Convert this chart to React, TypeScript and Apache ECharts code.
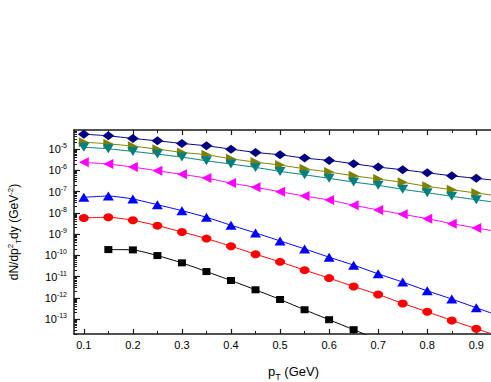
import React, { useEffect, useRef } from 'react';
import * as echarts from 'echarts';

// transverse momentum values (GeV)
const pT = [0.1, 0.15, 0.2, 0.25, 0.3, 0.35, 0.4, 0.45, 0.5, 0.55, 0.6, 0.65, 0.7, 0.75, 0.8, 0.85, 0.9];
const pTBlack = [0.15, 0.2, 0.25, 0.3, 0.35, 0.4, 0.45, 0.5, 0.55, 0.6, 0.65];

// spectra
const navyDiamond = [5.06e-5, 4.21e-5, 3.18e-5, 2.45e-5, 1.85e-5, 1.43e-5, 1.0e-5, 7.0e-6, 5.4e-6, 3.78e-6, 2.94e-6, 2.04e-6, 1.43e-6, 1.07e-6, 7.7e-7, 5.57e-7, 4.21e-7];
const oliveRight = [2.13e-5, 1.77e-5, 1.38e-5, 1.0e-5, 7.0e-6, 5.4e-6, 3.51e-6, 2.45e-6, 1.77e-6, 1.19e-6, 8.32e-7, 5.57e-7, 3.91e-7, 2.74e-7, 1.77e-7, 1.23e-7, 8.59e-8];
const tealDown = [1.24e-5, 1.03e-5, 7.8e-6, 5.82e-6, 4.21e-6, 2.82e-6, 1.98e-6, 1.38e-6, 8.97e-7, 6.21e-7, 4.21e-7, 2.82e-7, 1.98e-7, 1.28e-7, 8.87e-8, 6.01e-8, 4.17e-8];
const magentaLeft = [2.38e-6, 1.98e-6, 1.43e-6, 9.57e-7, 6.49e-7, 4.35e-7, 2.54e-7, 1.59e-7, 9.89e-8, 6.21e-8, 4.04e-8, 2.28e-8, 1.37e-8, 8.59e-9, 5.35e-9, 3.11e-9, 1.95e-9];
const blueUp = [5.4e-8, 6.21e-8, 4.5e-8, 2.43e-8, 1.27e-8, 6.21e-9, 2.62e-9, 1.14e-9, 4.8e-10, 2.02e-10, 8.22e-11, 3.47e-11, 1.35e-11, 5.52e-12, 2.15e-12, 8.79e-13, 3.43e-13];
const redCircle = [5.77e-9, 6.21e-9, 4.5e-9, 2.51e-9, 1.27e-9, 6.15e-10, 2.7e-10, 1.14e-10, 4.95e-11, 2.02e-11, 8.51e-12, 3.43e-12, 1.45e-12, 5.46e-13, 2.22e-13, 8.69e-14, 3.54e-14];
const blackSquare = [1.87e-10, 1.81e-10, 9.79e-11, 4.45e-11, 1.73e-11, 6.56e-12, 2.4e-12, 8.41e-13, 2.76e-13, 9.38e-14, 3.18e-14];

// where each fitted curve leaves the frame: [pT, value]
const fitTailNavy = [0.93, 3.56e-7];
const fitTailOlive = [0.93, 6.93e-8];
const fitTailTeal = [0.93, 3.35e-8];
const fitTailMagenta = [0.93, 1.48e-9];
const fitTailBlue = [0.93, 1.95e-13];
const fitTailRed = [0.93, 2.07e-14];
const fitTailBlack = [0.7, 1.07e-14];

// axis ticks
const xMajor = [0.1, 0.2, 0.3, 0.4, 0.5, 0.6, 0.7, 0.8, 0.9];
const xMinor = [0.15, 0.25, 0.35, 0.45, 0.55, 0.65, 0.75, 0.85];
const decades = [-13, -12, -11, -10, -9, -8, -7, -6, -5];

const X_MIN = 0.08;
const X_MAX = 0.93;
const LOG_MIN = -13.7;
const LOG_MAX = -4.1;

const FONT = 'Liberation Sans, Arial, sans-serif';
const AXIS_COLOR = '#1a1a1a';

function build(xs: number[], ys: number[], tail: number[]) {
  const d: any[] = xs.map((x, i) => [x, ys[i]]);
  d.push({ value: tail, symbol: 'none' });
  return d;
}

function mkSeries(name: string, data: any[], color: string, symbol: string, size: any, rotate = 0) {
  return {
    name,
    type: 'line',
    data,
    xAxisIndex: 0,
    yAxisIndex: 0,
    symbol,
    symbolSize: size,
    symbolRotate: rotate,
    smooth: 0.2,
    clip: true,
    itemStyle: { color },
    lineStyle: { color, width: 1 },
    emphasis: { disabled: true },
  };
}

export default function App() {
  const ref = useRef<HTMLDivElement>(null);
  useEffect(() => {
    if (!ref.current) return;
    const chart = echarts.init(ref.current, undefined, { renderer: 'svg' });

    const minorLogTicks: number[] = [];
    for (let e = -14; e <= -4; e++) {
      for (let k = 2; k <= 9; k++) {
        const v = e + Math.log10(k);
        if (v > LOG_MIN && v < LOG_MAX) minorLogTicks.push(v);
      }
    }

    const baseX = {
      type: 'value',
      min: X_MIN,
      max: X_MAX,
      splitLine: { show: false },
    };

    const option: any = {
      animation: false,
      backgroundColor: '#ffffff',
      grid: { left: 74, right: 0, top: 130, bottom: 48, containLabel: false, outerBoundsMode: 'none' },
      xAxis: [
        {
          ...baseX,
          position: 'bottom',
          axisLine: { show: true, lineStyle: { color: AXIS_COLOR, width: 1.5 } },
          axisTick: { show: true, inside: true, length: 5, customValues: xMajor, lineStyle: { color: AXIS_COLOR, width: 1.2 } },
          axisLabel: {
            customValues: xMajor,
            formatter: (v: number) => v.toFixed(1),
            fontFamily: FONT,
            fontSize: 11,
            color: '#000',
            margin: 5,
          },
          name: '{a|p}{sub|T}{a| (GeV)}',
          nameLocation: 'middle',
          nameGap: 29,
          nameTextStyle: {
            padding: [0, 0, 0, 22],
            rich: {
              a: { fontFamily: FONT, fontSize: 13, color: '#000', lineHeight: 16 },
              sub: { fontFamily: FONT, fontSize: 9, color: '#000', lineHeight: 16, verticalAlign: 'bottom', padding: [0, 0, -2, 0] },
            },
          },
        },
        {
          ...baseX,
          position: 'bottom',
          axisLine: { show: false },
          axisTick: { show: true, inside: true, length: 3, customValues: xMinor, lineStyle: { color: AXIS_COLOR, width: 1 } },
          axisLabel: { show: false },
        },
        {
          ...baseX,
          position: 'top',
          axisLine: { show: true, lineStyle: { color: AXIS_COLOR, width: 1.5 } },
          axisTick: { show: true, inside: true, length: 5, customValues: xMajor, lineStyle: { color: AXIS_COLOR, width: 1.2 } },
          axisLabel: { show: false },
        },
        {
          ...baseX,
          position: 'top',
          axisLine: { show: false },
          axisTick: { show: true, inside: true, length: 3, customValues: xMinor, lineStyle: { color: AXIS_COLOR, width: 1 } },
          axisLabel: { show: false },
        },
      ],
      yAxis: [
        {
          type: 'log',
          logBase: 10,
          min: Math.pow(10, LOG_MIN),
          max: Math.pow(10, LOG_MAX),
          splitNumber: 10,
          position: 'left',
          splitLine: { show: false },
          axisLine: { show: true, lineStyle: { color: AXIS_COLOR, width: 1.5 } },
          axisTick: { show: true, inside: true, length: 6, lineStyle: { color: AXIS_COLOR, width: 1.2 } },
          axisLabel: {
            showMinLabel: false,
            showMaxLabel: false,
            margin: 7,
            formatter: (v: number) => {
              const e = Math.log10(v);
              const r = Math.round(e);
              if (Math.abs(e - r) > 1e-6 || decades.indexOf(r) < 0) return '';
              return '{b|10}{s|' + r + '}';
            },
            rich: {
              b: { fontFamily: FONT, fontSize: 11, color: '#000', lineHeight: 14 },
              s: { fontFamily: FONT, fontSize: 7, color: '#000', lineHeight: 9, verticalAlign: 'top' },
            },
          },
          name: '{a|dN/dp}{sup|2}{sub|T}{a|dy (GeV}{sup|-2}{a|)}',
          nameLocation: 'middle',
          nameRotate: 90,
          nameGap: 52,
          nameTextStyle: {
            rich: {
              a: { fontFamily: FONT, fontSize: 12, color: '#000', lineHeight: 16 },
              sup: { fontFamily: FONT, fontSize: 8, color: '#000', lineHeight: 10, verticalAlign: 'top' },
              sub: { fontFamily: FONT, fontSize: 8, color: '#000', lineHeight: 10, verticalAlign: 'bottom' },
            },
          },
        },
        {
          type: 'value',
          min: LOG_MIN,
          max: LOG_MAX,
          position: 'left',
          offset: 0,
          splitLine: { show: false },
          axisLine: { show: false },
          axisLabel: { show: false },
          axisTick: { show: true, inside: true, length: 3, customValues: minorLogTicks, lineStyle: { color: AXIS_COLOR, width: 1 } },
        },
      ],
      series: [
        mkSeries('navy', build(pT, navyDiamond, fitTailNavy), '#000080', 'diamond', [12, 9]),
        mkSeries('olive', build(pT, oliveRight, fitTailOlive), '#808000', 'triangle', [10, 10], -90),
        mkSeries('teal', build(pT, tealDown, fitTailTeal), '#008080', 'triangle', [11, 9], 180),
        mkSeries('magenta', build(pT, magentaLeft, fitTailMagenta), '#ff00ff', 'triangle', [10, 10], 90),
        mkSeries('blue', build(pT, blueUp, fitTailBlue), '#0000ff', 'triangle', [11, 9]),
        mkSeries('red', build(pT, redCircle, fitTailRed), '#ff0000', 'circle', [10, 8]),
        mkSeries('black', build(pTBlack, blackSquare, fitTailBlack), '#000000', 'rect', [8, 7]),
      ],
    };
    chart.setOption(option);
    return () => chart.dispose();
  }, []);
  return <div ref={ref} style={{ position: 'fixed', left: 0, top: 0, width: 491, height: 382 }} />;
}
